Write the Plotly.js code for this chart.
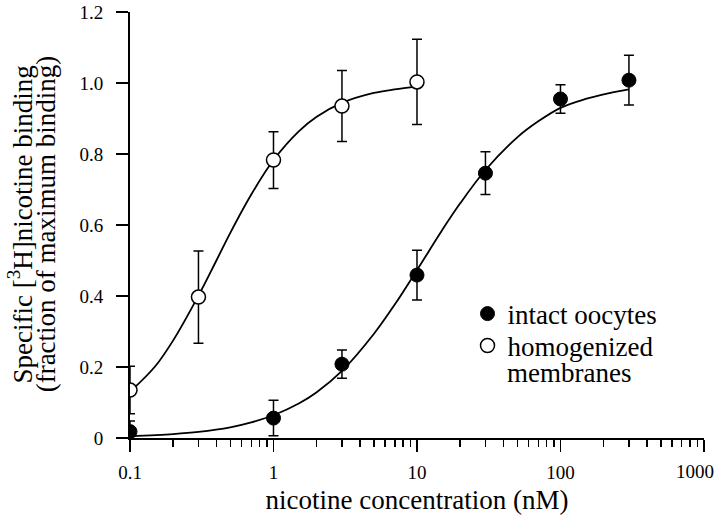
<!DOCTYPE html>
<html>
<head>
<meta charset="utf-8">
<script src="https://cdn.plot.ly/plotly-3.0.1.min.js"></script>
<style>
  body { margin: 0; background: white; }
  #chart { width: 720px; height: 520px; }
</style>
</head>
<body>
<div id="chart"></div>
<script>
// Measured points (nicotine concentration in nM, fraction of max binding)
let intactX = [0.1, 1, 3, 10, 30, 100, 300];
let intactY = [0.018, 0.056, 0.208, 0.459, 0.746, 0.955, 1.008];
let intactErr = [0.03, 0.05, 0.04, 0.07, 0.06, 0.04, 0.07];

let homogX = [0.1, 0.3, 1, 3, 10];
let homogY = [0.135, 0.397, 0.783, 0.935, 1.003];
let homogErr = [0.067, 0.13, 0.08, 0.10, 0.12];

// Fitted curves
let intactFitX = [0.1, 0.2, 0.3, 0.5, 0.7, 1, 1.5, 2, 3, 5, 7, 10, 15, 20, 30, 50, 70, 100, 150, 200, 300];
let intactFitY = [0.005, 0.011, 0.017, 0.030, 0.044, 0.064, 0.097, 0.129, 0.189, 0.293, 0.376, 0.473,
                  0.586, 0.661, 0.755, 0.847, 0.892, 0.930, 0.955, 0.968, 0.982];

let homogFitX = [0.1, 0.15, 0.2, 0.3, 0.4, 0.5, 0.7, 1, 1.5, 2, 3, 5, 7, 10];
let homogFitY = [0.13, 0.202, 0.275, 0.401, 0.50, 0.578, 0.686, 0.783, 0.864, 0.905, 0.944, 0.972, 0.982, 0.99];

// Axis ticks (the 1000 label is an annotation so it can sit flush with the edge)
let xTickVals = [0.1, 1, 10, 100, 1000];
let xTickText = ['0.1', '1', '10', '100', ''];
let yTickVals = [0, 0.2, 0.4, 0.6, 0.8, 1.0, 1.2];
let yTickText = ['0', '0.2', '0.4', '0.6', '0.8', '1.0', '1.2'];

let yTitleLines = ['Specific [<sup>3</sup>H]nicotine binding', '(fraction of maximum binding)'];

const serif = '"Times New Roman", "Liberation Serif", "DejaVu Serif", Times, serif';

let fitIntact = {
    x: intactFitX,
    y: intactFitY,
    mode: 'lines',
    type: 'scatter',
    line: { color: 'black', width: 1.8, shape: 'spline' },
    showlegend: false,
    hoverinfo: 'none'
};

let fitHomog = {
    x: homogFitX,
    y: homogFitY,
    mode: 'lines',
    type: 'scatter',
    line: { color: 'black', width: 1.8, shape: 'spline' },
    showlegend: false,
    hoverinfo: 'none'
};

let ptsIntact = {
    x: intactX,
    y: intactY,
    name: 'intact oocytes',
    legend: 'legend',
    mode: 'markers',
    type: 'scatter',
    marker: { size: 14, color: 'black', line: { color: 'black', width: 1 } },
    error_y: { type: 'data', array: intactErr, visible: true, color: 'black', thickness: 1.5, width: 5 },
    hoverinfo: 'none'
};

let ptsHomog = {
    x: homogX,
    y: homogY,
    name: 'homogenized',
    legend: 'legend2',
    mode: 'markers',
    type: 'scatter',
    marker: { size: 14, color: 'white', line: { color: 'black', width: 1.5 } },
    error_y: { type: 'data', array: homogErr, visible: true, color: 'black', thickness: 1.5, width: 5 },
    hoverinfo: 'none'
};

let legendStyle = {
    x: 0.588, xanchor: 'left', yanchor: 'middle',
    font: { family: serif, size: 27, color: 'black' },
    bgcolor: 'rgba(0,0,0,0)'
};

let layout = {
    width: 720,
    height: 520,
    autosize: false,
    margin: { l: 130, r: 16, t: 12, b: 82, pad: 0 },
    paper_bgcolor: 'white',
    plot_bgcolor: 'white',
    font: { family: serif, size: 19, color: 'black' },
    showlegend: true,
    legend: Object.assign({ y: 0.291 }, legendStyle),
    legend2: Object.assign({ y: 0.216 }, legendStyle),
    annotations: [
        // second line of the homogenized legend entry
        { text: 'membranes', xref: 'paper', yref: 'paper', x: 0.653, y: 0.152,
          xanchor: 'left', yanchor: 'middle', showarrow: false,
          font: { family: serif, size: 27, color: 'black' } },
        // y axis title, two lines
        { text: yTitleLines[0], xref: 'paper', yref: 'paper', x: -0.191, y: 0.502,
          xanchor: 'center', yanchor: 'middle', textangle: -90, showarrow: false,
          font: { family: serif, size: 27, color: 'black' } },
        { text: yTitleLines[1], xref: 'paper', yref: 'paper', x: -0.146, y: 0.502,
          xanchor: 'center', yanchor: 'middle', textangle: -90, showarrow: false,
          font: { family: serif, size: 27, color: 'black' } },
        // last x tick label
        { text: '1000', xref: 'x', yref: 'paper', x: 3, y: 0, xanchor: 'right', yanchor: 'middle',
          xshift: 12, yshift: -33, showarrow: false,
          font: { family: serif, size: 19, color: 'black' } }
    ],
    xaxis: {
        type: 'log',
        range: [-1, 3.0002],
        tickvals: xTickVals,
        ticktext: xTickText,
        ticks: 'outside',
        ticklen: 12,
        tickwidth: 1.5,
        tickcolor: 'black',
        ticklabelstandoff: 4,
        minor: { ticks: 'outside', ticklen: 7, tickwidth: 1.5, tickcolor: 'black', dtick: 'D1', showgrid: false },
        showline: true,
        linecolor: 'black',
        linewidth: 2,
        showgrid: false,
        zeroline: false,
        fixedrange: true,
        title: { text: 'nicotine concentration (nM)', font: { family: serif, size: 27 }, standoff: 8 }
    },
    yaxis: {
        range: [0, 1.2],
        tickvals: yTickVals,
        ticktext: yTickText,
        ticks: 'outside',
        ticklen: 12,
        tickwidth: 1.5,
        tickcolor: 'black',
        ticklabelstandoff: 9,
        showline: true,
        linecolor: 'black',
        linewidth: 2,
        showgrid: false,
        zeroline: false,
        fixedrange: true
    }
};

Plotly.newPlot('chart', [fitIntact, fitHomog, ptsIntact, ptsHomog], layout, { displayModeBar: false, staticPlot: true });
</script>
</body>
</html>
